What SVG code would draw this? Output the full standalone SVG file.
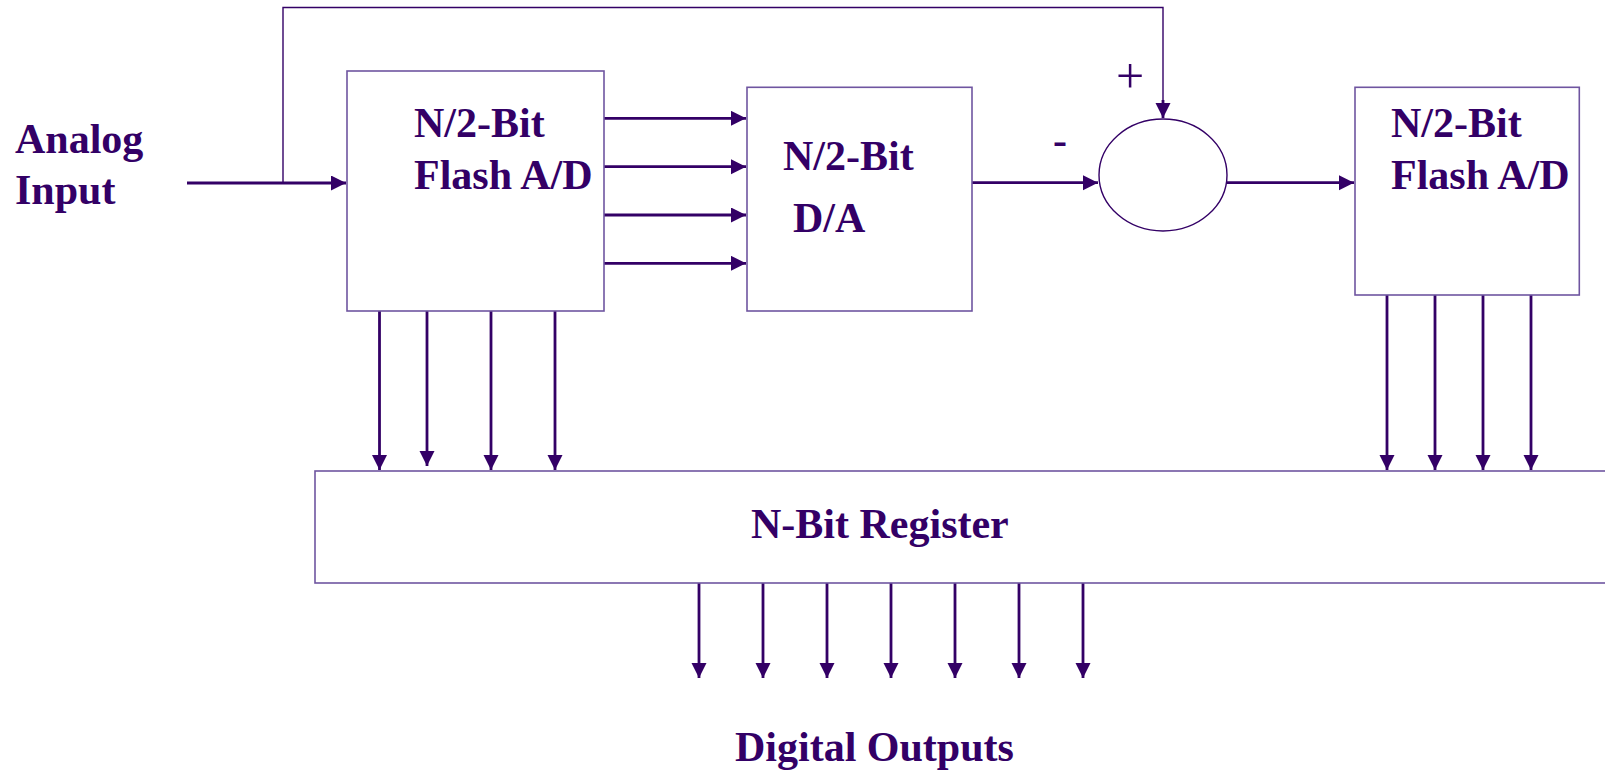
<svg xmlns="http://www.w3.org/2000/svg" width="1605" height="771" viewBox="0 0 1605 771">
<style>
.box{fill:#fff;stroke:#6f55a0;stroke-width:1.6}
.t{font-family:"Liberation Serif","Times New Roman",serif;font-weight:bold;font-size:42px;fill:#330066}
.w{fill:none;stroke:#330066;stroke-width:2.8}
.thin{fill:none;stroke:#330066;stroke-width:1.4}
</style>
<defs>
<marker id="ah" markerUnits="userSpaceOnUse" markerWidth="16" markerHeight="16" refX="15" refY="7.5" orient="auto">
<path d="M0,0 L15,7.5 L0,15 z" fill="#330066"/>
</marker>
</defs>
<rect width="1605" height="771" fill="#fff"/>
<g id="connectors">
<path class="w" d="M187,183 H346" marker-end="url(#ah)"/>
<path class="thin" d="M283,183 V7.5 H1163 V104"/>
<path class="w" d="M1163,100 V118" marker-end="url(#ah)"/>
<path class="w" d="M604,118.3 H746" marker-end="url(#ah)"/>
<path class="w" d="M604,166.7 H746" marker-end="url(#ah)"/>
<path class="w" d="M604,215 H746" marker-end="url(#ah)"/>
<path class="w" d="M604,263.3 H746" marker-end="url(#ah)"/>
<path class="w" d="M972,182.7 H1098" marker-end="url(#ah)"/>
<path class="w" d="M1227,182.7 H1354" marker-end="url(#ah)"/>
<path class="w" d="M379.5,311 V470" marker-end="url(#ah)"/>
<path class="w" d="M427,311 V466" marker-end="url(#ah)"/>
<path class="w" d="M491,311 V470" marker-end="url(#ah)"/>
<path class="w" d="M555,311 V470" marker-end="url(#ah)"/>
<path class="w" d="M1387,295 V470" marker-end="url(#ah)"/>
<path class="w" d="M1435,295 V470" marker-end="url(#ah)"/>
<path class="w" d="M1483,295 V470" marker-end="url(#ah)"/>
<path class="w" d="M1531,295 V470" marker-end="url(#ah)"/>
<path class="w" d="M699,583 V678" marker-end="url(#ah)"/>
<path class="w" d="M763,583 V678" marker-end="url(#ah)"/>
<path class="w" d="M827,583 V678" marker-end="url(#ah)"/>
<path class="w" d="M891,583 V678" marker-end="url(#ah)"/>
<path class="w" d="M955,583 V678" marker-end="url(#ah)"/>
<path class="w" d="M1019,583 V678" marker-end="url(#ah)"/>
<path class="w" d="M1083,583 V678" marker-end="url(#ah)"/>
</g>
<g id="analog-input">
<text class="t" x="15" y="153">Analog</text>
<text class="t" x="15" y="204">Input</text>
</g>
<g id="flash-ad-1">
<rect class="box" x="347" y="71" width="257" height="240"/>
<text class="t" x="414" y="137">N/2-Bit</text>
<text class="t" x="414" y="189">Flash A/D</text>
</g>
<g id="da">
<rect class="box" x="747" y="87.3" width="225" height="223.7"/>
<text class="t" x="783" y="170">N/2-Bit</text>
<text class="t" x="793" y="232">D/A</text>
</g>
<g id="summer">
<ellipse cx="1163" cy="175" rx="64" ry="56" fill="#fff" stroke="#330066" stroke-width="1.4"/>
<text x="1130" y="93" text-anchor="middle" style="font-family:'Liberation Serif','Times New Roman',serif;font-size:50px;fill:#330066">+</text>
<text class="t" x="1053" y="154">-</text>
</g>
<g id="flash-ad-2">
<rect class="box" x="1355" y="87.3" width="224.3" height="207.7"/>
<text class="t" x="1391" y="137">N/2-Bit</text>
<text class="t" x="1391" y="189">Flash A/D</text>
</g>
<g id="register">
<rect class="box" x="315" y="471" width="1300" height="112"/>
<text class="t" x="751" y="538">N-Bit Register</text>
</g>
<g id="digital-outputs">
<text class="t" x="735" y="761">Digital Outputs</text>
</g>
</svg>
